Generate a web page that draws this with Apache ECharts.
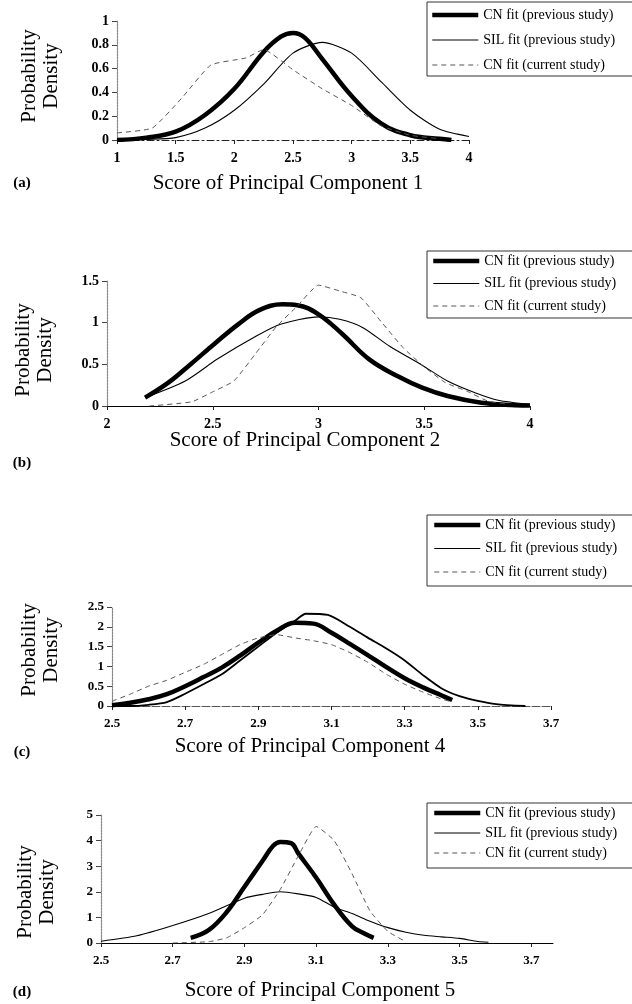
<!DOCTYPE html>
<html><head><meta charset="utf-8">
<script src="https://cdn.jsdelivr.net/npm/echarts@6/dist/echarts.min.js"></script>
<style>html,body{margin:0;padding:0;background:#fff}#c{width:632px;height:1004px}</style>
</head><body><div id="c"></div>
<script>
// ---------- data ----------
const names = ['CN fit (previous study)', 'SIL fit (previous study)', 'CN fit (current study)'];
// panel (a)
const aCNprev = [[1,0],[1.25,0.02],[1.5,0.07],[1.75,0.21],[2,0.43],[2.25,0.74],[2.4,0.87],[2.5,0.9],[2.6,0.86],[2.75,0.68],[3,0.37],[3.25,0.14],[3.5,0.04],[3.75,0.01],[3.85,0]];
const aSIL = [[1,0],[1.25,0.005],[1.5,0.02],[1.75,0.1],[2,0.25],[2.25,0.47],[2.5,0.73],[2.75,0.82],[3,0.73],[3.25,0.49],[3.5,0.25],[3.75,0.09],[4,0.03]];
const aCNcur = [[1,0.06],[1.3,0.1],[1.55,0.35],[1.8,0.63],[2.1,0.69],[2.25,0.76],[2.5,0.59],[2.75,0.43],[3,0.29],[3.25,0.12],[3.5,0.04],[3.75,0.01]];
// panel (b)
const bCNprev = [[2.18,0.1],[2.29,0.28],[2.39,0.49],[2.51,0.75],[2.62,0.98],[2.72,1.15],[2.83,1.22],[2.9,1.21],[3,1.1],[3.11,0.87],[3.24,0.56],[3.38,0.35],[3.49,0.22],[3.61,0.12],[3.77,0.04],[3.93,0.01],[4,0.005]];
const bSIL = [[2.18,0.1],[2.37,0.3],[2.52,0.56],[2.7,0.83],[2.82,0.98],[3,1.07],[3.1,1.04],[3.21,0.94],[3.34,0.71],[3.49,0.49],[3.61,0.3],[3.74,0.16],[3.85,0.07],[4,0.02]];
const bCNcur = [[2.2,0],[2.4,0.05],[2.5,0.17],[2.6,0.3],[2.7,0.62],[2.8,0.95],[2.9,1.2],[3,1.45],[3.1,1.38],[3.2,1.3],[3.3,1.0],[3.4,0.7],[3.5,0.47],[3.6,0.28],[3.7,0.18],[3.8,0.06],[3.9,0.02]];
// panel (c)
const cCNprev = [[2.5,0.02],[2.55,0.08],[2.6,0.17],[2.65,0.3],[2.7,0.5],[2.75,0.73],[2.8,0.97],[2.85,1.27],[2.9,1.6],[2.95,1.9],[3,2.1],[3.05,2.08],[3.1,1.85],[3.15,1.57],[3.2,1.28],[3.25,0.98],[3.3,0.7],[3.35,0.47],[3.4,0.27],[3.43,0.15]];
const cSIL = [[2.5,0],[2.55,0],[2.6,0.03],[2.65,0.1],[2.7,0.31],[2.75,0.55],[2.8,0.8],[2.85,1.15],[2.9,1.5],[2.95,1.85],[3,2.15],[3.03,2.33],[3.09,2.3],[3.15,2.0],[3.2,1.72],[3.25,1.45],[3.3,1.15],[3.35,0.78],[3.4,0.45],[3.45,0.25],[3.5,0.13],[3.55,0.05],[3.63,0]];
const cCNcur = [[2.5,0.12],[2.55,0.3],[2.6,0.5],[2.65,0.65],[2.7,0.85],[2.75,1.05],[2.8,1.3],[2.85,1.55],[2.9,1.72],[2.95,1.8],[3,1.72],[3.05,1.65],[3.1,1.55],[3.15,1.35],[3.2,1.1],[3.25,0.8],[3.3,0.55],[3.35,0.35],[3.4,0.18],[3.43,0.1]];
// panel (d)
const dCNprev = [[2.75,0.2],[2.8,0.5],[2.85,1.2],[2.9,2.2],[2.95,3.2],[2.98,3.8],[3,3.95],[3.03,3.9],[3.05,3.5],[3.1,2.55],[3.15,1.5],[3.2,0.65],[3.23,0.4],[3.26,0.2]];
const dSIL = [[2.5,0.07],[2.6,0.28],[2.7,0.68],[2.8,1.15],[2.9,1.75],[2.95,1.9],[3,2.0],[3.05,1.92],[3.1,1.78],[3.15,1.4],[3.2,1.15],[3.25,0.85],[3.3,0.6],[3.35,0.42],[3.4,0.3],[3.45,0.24],[3.5,0.18],[3.55,0.06],[3.58,0.03]];
const dCNcur = [[2.7,0],[2.8,0.05],[2.85,0.2],[2.9,0.6],[2.95,1.1],[3,2.1],[3.05,3.4],[3.1,4.55],[3.15,4.0],[3.2,2.7],[3.25,1.25],[3.3,0.45],[3.35,0.05]];
// tick labels
const xTicksA = [1,1.5,2,2.5,3,3.5,4];
const yTicksA = [0,0.2,0.4,0.6,0.8,1];
const xTicksB = [2,2.5,3,3.5,4];
const yTicksB = [0,0.5,1,1.5];
const xTicksC = [2.5,2.7,2.9,3.1,3.3,3.5,3.7];
const yTicksC = [0,0.5,1,1.5,2,2.5];
const xTicksD = [2.5,2.7,2.9,3.1,3.3,3.5,3.7];
const yTicksD = [0,1,2,3,4,5];
const xTitles = ['Score of Principal Component 1','Score of Principal Component 2','Score of Principal Component 4','Score of Principal Component 5'];
const panelLabels = ['(a)','(b)','(c)','(d)'];

// ---------- layout ----------
const FONT = "'Liberation Serif','Times New Roman',serif";
const grids = [
  {left:117, top:21, width:352, height:119},
  {left:107, top:281, width:423, height:125},
  {left:112, top:607, width:439, height:99},
  {left:101, top:815, width:452, height:128}
];
const xRanges = [[1,4,0.5],[2,4,0.5],[2.5,3.7,0.2],[2.5,3.76,0.2]];
const yRanges = [[0,1,0.2],[0,1.5,0.5],[0,2.5,0.5],[0,5,1]];
const xTickLists = [xTicksA,xTicksB,xTicksC,xTicksD];
const yTickLists = [yTicksA,yTicksB,yTicksC,yTicksD];
const xLineStyles = [
  {color:'#222', width:1, type:[7,3,2,3]},
  {color:'#000', width:1.2, type:'solid'},
  {color:'#555', width:1, type:[8,2]},
  {color:'#000', width:1, type:'solid'}
];
const legendPos = [
  {top:2, pad:[6,30,4,3], gap:11},
  {top:251, pad:[3,30,5,4], gap:8.5},
  {top:515, pad:[3,30,7,5], gap:9.5},
  {top:803, pad:[3,30,8,5], gap:6}
];
const titleY = [183, 440, 746, 990];
const titleX = [288, 305, 310, 320];
const labelY = [183, 463, 752, 992];
const yTitlePos = [[40,76],[34,350],[40,650],[36,892]];
const panelData = [[aCNprev,aSIL,aCNcur],[bCNprev,bSIL,bCNcur],[cCNprev,cSIL,cCNcur],[dCNprev,dSIL,dCNcur]];

const xAxis = [], yAxis = [], series = [], legend = [], graphic = [];
const fmt = v => String(Math.round(v*100)/100);
for (let i = 0; i < 4; i++) {
  const small = i >= 2;
  xAxis.push({
    type:'value', gridIndex:i, min:xRanges[i][0], max:xRanges[i][1], interval:xRanges[i][2],
    axisLine:{show:true, onZero:false, lineStyle:xLineStyles[i]},
    axisTick:{show:true, inside:false, length:4, lineStyle:{color:'#222'}, customValues:xTickLists[i]},
    axisLabel:{customValues:xTickLists[i], formatter:fmt, margin:11, color:'#000', fontFamily:FONT, fontSize:small?13:14, fontWeight:'bold'},
    splitLine:{show:false}
  });
  yAxis.push({
    type:'value', gridIndex:i, min:yRanges[i][0], max:yRanges[i][1], interval:yRanges[i][2],
    axisLine:{show:true, onZero:false, lineStyle:{color:'#888', width:1.2, type:[2,1]}},
    axisTick:{show:true, inside:false, length:5, lineStyle:{color:'#444'}, customValues:yTickLists[i]},
    axisLabel:{customValues:yTickLists[i], formatter:fmt, margin:8, color:'#000', fontFamily:FONT, fontSize:small?13:14, fontWeight:'bold'},
    splitLine:{show:false}
  });
  const [cnp, sil, cnc] = panelData[i];
  series.push({type:'line', name:names[0], xAxisIndex:i, yAxisIndex:i, data:cnp, symbol:'none', smooth:0.4,
    itemStyle:{color:'#000'}, lineStyle:{color:'#000', width:4.5}});
  series.push({type:'line', name:names[1], xAxisIndex:i, yAxisIndex:i, data:sil, symbol:'none', smooth:0.25,
    itemStyle:{color:'#000'}, lineStyle:{color:'#000', width:i===2?1.8:1.1}});
  series.push({type:'line', name:names[2], xAxisIndex:i, yAxisIndex:i, data:cnc, symbol:'none', smooth:0.15,
    itemStyle:{color:'#555'}, lineStyle:{color:'#555', width:1, type:[5,4]}});
  const L = legendPos[i];
  legend.push({
    left:427, top:L.top, orient:'vertical', data:names, selectedMode:false,
    itemWidth:46, itemHeight:14, itemGap:L.gap, padding:L.pad,
    itemStyle:{opacity:0},
    lineStyle:{width:'inherit', type:'inherit', color:'inherit'},
    borderColor:'#333', borderWidth:1, backgroundColor:'#fff',
    textStyle:{fontFamily:FONT, fontSize:14, color:'#000', lineHeight:14}
  });
  graphic.push({type:'text', x:titleX[i], y:titleY[i], style:{text:xTitles[i], font:'21px '+FONT, fill:'#000', textAlign:'center', textVerticalAlign:'middle'}});
  graphic.push({type:'text', x:22, y:labelY[i], style:{text:panelLabels[i], font:'bold 15px '+FONT, fill:'#000', textAlign:'center', textVerticalAlign:'middle'}});
  graphic.push({type:'text', x:yTitlePos[i][0], y:yTitlePos[i][1], rotation:Math.PI/2, style:{text:'Probability\nDensity', font:'21px '+FONT, fill:'#000', textAlign:'center', textVerticalAlign:'middle', lineHeight:22}});
}

const chart = echarts.init(document.getElementById('c'), null, {renderer:'canvas'});
chart.setOption({
  animation:false,
  backgroundColor:'#fff',
  grid:grids.map(g => Object.assign({containLabel:false}, g)),
  xAxis, yAxis, series, legend, graphic
});
</script>
</body></html>
